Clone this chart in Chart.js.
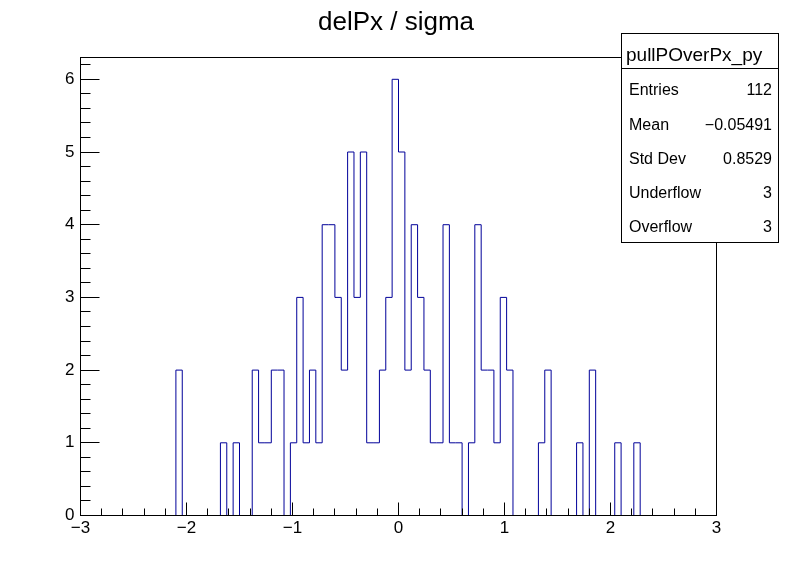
<!DOCTYPE html>
<html>
<head>
<meta charset="utf-8">
<script src="https://cdn.jsdelivr.net/npm/chart.js@4"></script>
<style>
  html, body { margin: 0; padding: 0; background: #fff; }
</style>
</head>
<body>
<canvas id="histo" width="796" height="572"></canvas>
<script>
// histogram definition
const xMin = -3;
const xMax = 3;
const nBins = 100;
const binCounts = [
  0, 0, 0, 0, 0, 0, 0, 0, 0, 0,
  0, 0, 0, 0, 0, 2, 0, 0, 0, 0,
  0, 0, 1, 0, 1, 0, 0, 2, 1, 1,
  2, 2, 0, 1, 3, 1, 2, 1, 4, 4,
  3, 2, 5, 3, 5, 1, 1, 2, 3, 6,
  5, 2, 4, 3, 2, 1, 1, 4, 1, 1,
  0, 1, 4, 2, 2, 1, 3, 2, 0, 0,
  0, 0, 1, 2, 0, 0, 0, 0, 1, 0,
  2, 0, 0, 0, 1, 0, 0, 1, 0, 0,
  0, 0, 0, 0, 0, 0, 0, 0, 0, 0
];
const yMax = 6.3;

const histTitle = "delPx / sigma";
const statsTitle = "pullPOverPx_py";
const statsLabels = ["Entries", "Mean", "Std Dev", "Underflow", "Overflow"];
const statsValues = ["112", "\u22120.05491", "0.8529", "3", "3"];

const FONT = "'Liberation Sans', Arial, Helvetica, sans-serif";
const lineColor = "#000099";

const binWidth = (xMax - xMin) / nBins;
const points = binCounts.map((c, i) => ({ x: xMin + i * binWidth, y: c }));
points.push({ x: xMax, y: binCounts[nBins - 1] });

function fmt(v) {
  return v < 0 ? "\u2212" + Math.abs(v) : String(v);
}

// ROOT-like frame, inward ticks, title and stats box
const rootDecor = {
  id: "rootDecor",
  afterDatasetsDraw(chart) {
    const { ctx, chartArea: a, scales } = chart;
    ctx.save();
    ctx.strokeStyle = "#000";
    ctx.lineWidth = 1;
    ctx.strokeRect(a.left, a.top, a.right - a.left, a.bottom - a.top);

    ctx.beginPath();
    // x ticks
    for (let k = 0; k <= 30; k++) {
      const v = xMin + k * 0.2;
      const px = Math.round(scales.x.getPixelForValue(v) - 0.5) + 0.5;
      const len = (k % 5 === 0) ? 13 : 7;
      ctx.moveTo(px, a.bottom);
      ctx.lineTo(px, a.bottom - len);
    }
    // y ticks
    for (let k = 0; k <= 31; k++) {
      const v = k * 0.2;
      if (v > yMax) break;
      const py = Math.round(scales.y.getPixelForValue(v) - 0.5) + 0.5;
      const len = (k % 5 === 0) ? 19 : 10;
      ctx.moveTo(a.left, py);
      ctx.lineTo(a.left + len, py);
    }
    ctx.stroke();
    ctx.restore();
  },
  afterDraw(chart) {
    const { ctx } = chart;
    ctx.save();
    // title
    ctx.fillStyle = "#000";
    ctx.font = "26px " + FONT;
    ctx.textAlign = "center";
    ctx.textBaseline = "alphabetic";
    ctx.fillText(histTitle, 396, 30);

    // stats box
    const bx = 621.5, by = 33.5, bw = 157, bh = 209, sep = 68.5;
    ctx.fillStyle = "#fff";
    ctx.fillRect(bx, by, bw, bh);
    ctx.strokeStyle = "#000";
    ctx.lineWidth = 1;
    ctx.strokeRect(bx, by, bw, bh);
    ctx.beginPath();
    ctx.moveTo(bx, sep);
    ctx.lineTo(bx + bw, sep);
    ctx.stroke();

    ctx.fillStyle = "#000";
    ctx.font = "19px " + FONT;
    ctx.textAlign = "left";
    ctx.textBaseline = "alphabetic";
    ctx.fillText(statsTitle, 626, 61);

    const rowY = [91, 126, 160, 194, 228];
    ctx.font = "16px " + FONT;
    ctx.textBaseline = "middle";
    statsLabels.forEach((lab, i) => {
      ctx.textAlign = "left";
      ctx.fillText(lab, 629, rowY[i]);
      ctx.textAlign = "right";
      ctx.fillText(statsValues[i], 772, rowY[i]);
    });
    ctx.restore();
  }
};

const chart = new Chart(document.getElementById("histo").getContext("2d"), {
  type: "line",
  data: {
    datasets: [{
      label: statsTitle,
      data: points,
      stepped: true,
      borderColor: lineColor,
      borderWidth: 1,
      pointRadius: 0,
      fill: false
    }]
  },
  options: {
    responsive: false,
    animation: false,
    events: [],
    layout: { padding: { top: 57.5, right: 79.5, left: 0, bottom: 0 } },
    plugins: {
      legend: { display: false },
      tooltip: { enabled: false },
      title: { display: false }
    },
    scales: {
      x: {
        type: "linear",
        min: xMin,
        max: xMax,
        afterFit(scale) { scale.height = 56.5; },
        grid: { display: false, drawTicks: false },
        border: { display: false },
        ticks: {
          stepSize: 1,
          includeBounds: false,
          maxRotation: 0,
          padding: 3,
          color: "#000",
          font: { family: FONT, size: 17 },
          callback: v => fmt(v)
        }
      },
      y: {
        min: 0,
        max: yMax,
        afterFit(scale) { scale.width = 80.5; },
        grid: { display: false, drawTicks: false },
        border: { display: false },
        ticks: {
          stepSize: 1,
          includeBounds: false,
          padding: 6,
          color: "#000",
          font: { family: FONT, size: 17 },
          callback: v => fmt(v)
        }
      }
    }
  },
  plugins: [rootDecor]
});
</script>
</body>
</html>
